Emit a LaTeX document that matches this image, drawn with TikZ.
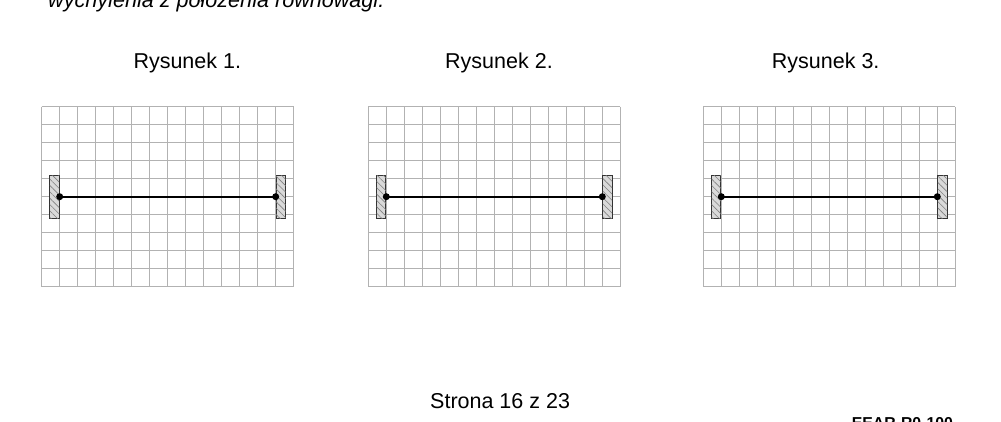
\documentclass[tikz,border=0pt]{standalone}
\usepackage{fontspec}
\setmainfont{Liberation Sans}
\usetikzlibrary{patterns.meta}
\begin{document}
\begin{tikzpicture}[x=1pt,y=-1pt,
  gridline/.style={draw=black!30, line width=0.9pt},
  wall/.style={draw=black!80, line width=1pt, fill=black!15, inner sep=0pt,
    minimum width=9.3pt, minimum height=43pt,
    postaction={pattern={Lines[angle=-45,distance=4.5pt,line width=0.6pt]}, pattern color=black!50}},
  stringline/.style={line width=2.1pt},
  knot/.style={circle, fill=black, inner sep=0pt, minimum size=7pt},
  label/.style={font=\fontsize{21.5}{24}\selectfont, anchor=base west, inner sep=0pt}]
\useasboundingbox (0,0) rectangle (1001,422);
\clip (0,0) rectangle (1001,422);
\node[label, font=\fontsize{21.6}{24}\selectfont\itshape] (intro) at (48,8) {wychylenia z położenia równowagi.};
\foreach \i/\xo/\tx in {1/41.7/133.3, 2/368.3/445, 3/703.3/771.7}{
  \node[label] (title\i) at (\tx,68.3) {Rysunek \i.};
  \foreach \k in {0,...,14}{
    \draw[gridline] ({\xo+18*\k},106.7) -- ({\xo+18*\k},286.7);
  }
  \foreach \k in {0,...,10}{
    \draw[gridline] (\xo,{106.7+18*\k}) -- ({\xo+252},{106.7+18*\k});
  }
  \node[wall, anchor=east] (wl\i) at ({\xo+18},196.7) {};
  \node[wall, anchor=west] (wr\i) at ({\xo+234},196.7) {};
  \node[knot] (kl\i) at (wl\i.east) {};
  \node[knot] (kr\i) at (wr\i.west) {};
  \draw[stringline] (kl\i.center) -- (kr\i.center);
}
\node[label] (page) at (430,408.3) {Strona 16 z 23};
\node[label, font=\fontsize{15.8}{18}\selectfont\bfseries] (code) at (851.7,428) {EEAR-R0-100};
\end{tikzpicture}
\end{document}
